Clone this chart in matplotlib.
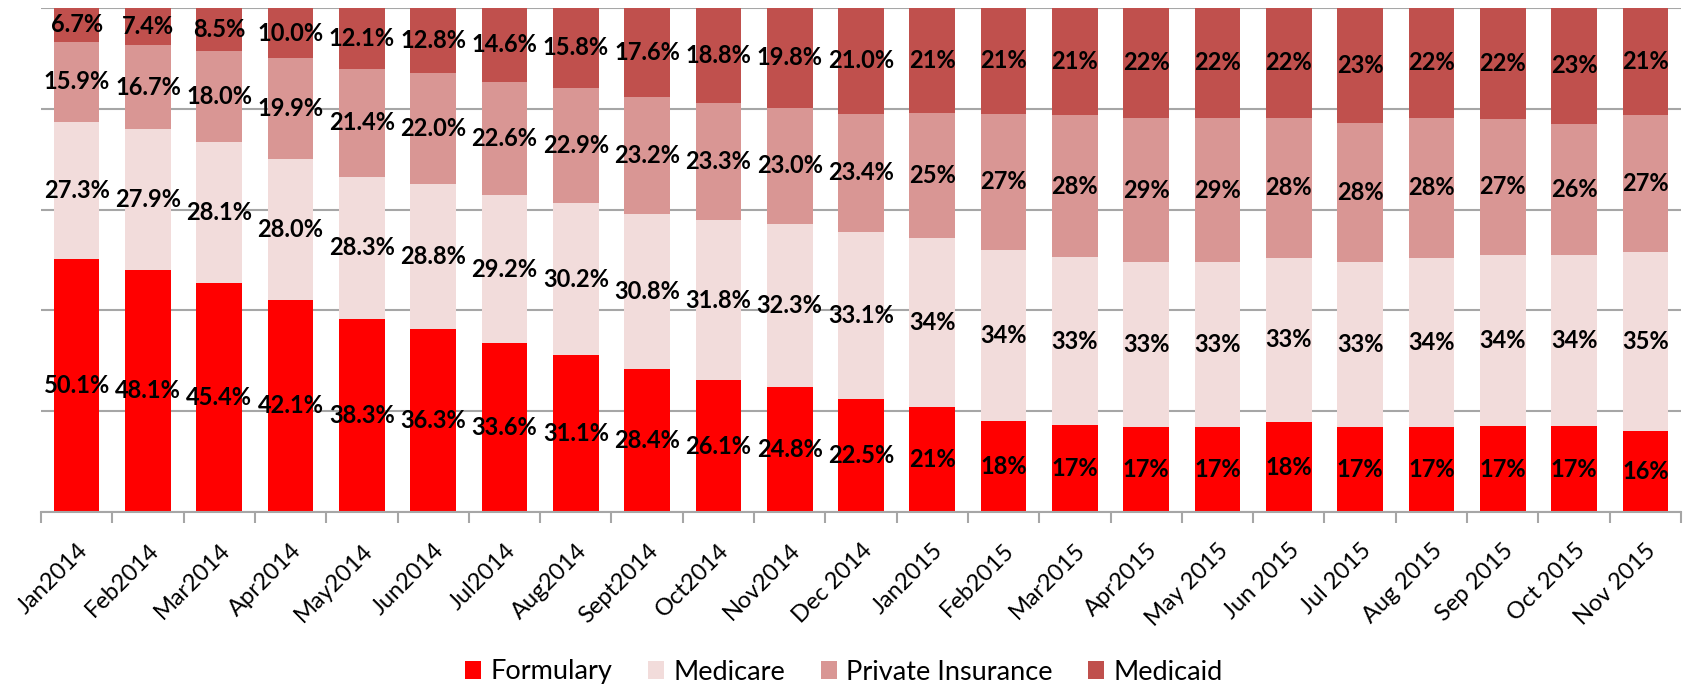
import matplotlib.pyplot as plt
import numpy as np
from matplotlib.patches import Patch
from matplotlib.ticker import FixedLocator, NullFormatter

months = ["Jan2014", "Feb2014", "Mar2014", "Apr2014", "May2014", "Jun2014",
          "Jul2014", "Aug2014", "Sept2014", "Oct2014", "Nov2014", "Dec 2014",
          "Jan2015", "Feb2015", "Mar2015", "Apr2015", "May 2015", "Jun 2015",
          "Jul 2015", "Aug 2015", "Sep 2015", "Oct 2015", "Nov 2015"]

formulary = [50.1, 48.1, 45.4, 42.1, 38.3, 36.3, 33.6, 31.1, 28.4, 26.1, 24.8, 22.5,
             21, 18, 17, 17, 17, 18, 17, 17, 17, 17, 16]
medicare = [27.3, 27.9, 28.1, 28.0, 28.3, 28.8, 29.2, 30.2, 30.8, 31.8, 32.3, 33.1,
            34, 34, 33, 33, 33, 33, 33, 34, 34, 34, 35]
private_ins = [15.9, 16.7, 18.0, 19.9, 21.4, 22.0, 22.6, 22.9, 23.2, 23.3, 23.0, 23.4,
               25, 27, 28, 29, 29, 28, 28, 28, 27, 26, 27]
medicaid = [6.7, 7.4, 8.5, 10.0, 12.1, 12.8, 14.6, 15.8, 17.6, 18.8, 19.8, 21.0,
            21, 21, 21, 22, 22, 22, 23, 22, 22, 23, 21]

series = [("Formulary", formulary, "#FF0000"),
          ("Medicare", medicare, "#F2DCDB"),
          ("Private Insurance", private_ins, "#D99694"),
          ("Medicaid", medicaid, "#C0504D")]

plt.rcParams["font.family"] = ["Lato", "DejaVu Sans"]

fig = plt.figure(figsize=(16.88, 6.88), dpi=100)
ax = fig.add_axes([41 / 1688, 1 - 512 / 688, 1640 / 1688, 504 / 688])

x = np.arange(len(months))
totals = np.sum([np.array(s[1]) for s in series], axis=0)
bottom = np.zeros(len(months))
for name, vals, color in series:
    vals = np.array(vals)
    frac = vals / totals
    ax.bar(x, frac, 0.64, bottom=bottom, color=color, zorder=2)
    for i, v in enumerate(vals):
        # 2014 labels keep one decimal, 2015 ones are whole numbers
        txt = f"{v:.1f}%" if i < 12 else f"{v:.0f}%"
        ax.text(x[i], bottom[i] + frac[i] / 2, txt, ha="center", va="center",
                fontsize=17, fontweight="bold", color="black", zorder=3)
    bottom += frac

ax.set_xlim(-0.5, len(months) - 0.5)
ax.set_ylim(0, 1)
ax.set_yticks(np.arange(0, 1.01, 0.2))
ax.yaxis.set_major_formatter(NullFormatter())
ax.tick_params(axis="y", length=0)
ax.grid(axis="y", color="#A6A6A6", linewidth=1.5, zorder=0)
for s in ["left", "right", "top"]:
    ax.spines[s].set_visible(False)
ax.spines["bottom"].set_color("#A6A6A6")
ax.spines["bottom"].set_linewidth(1.5)
ax.spines["bottom"].set_zorder(4)

ax.set_xticks(x)
ax.set_xticklabels(months, rotation=45, ha="right", rotation_mode="anchor", fontsize=17)
ax.tick_params(axis="x", which="major", length=0, pad=20)
ax.xaxis.set_minor_locator(FixedLocator(np.arange(-0.5, len(months), 1.0)))
ax.tick_params(axis="x", which="minor", length=8, width=1.5, color="#A6A6A6")

handles = [Patch(facecolor=c, edgecolor="none") for _, _, c in series]
fig.legend(handles, [s[0] for s in series], loc="center", ncol=4,
           bbox_to_anchor=(0.5, 1 - 672 / 688), frameon=False, fontsize=19.5,
           handlelength=0.6, handleheight=0.6, handletextpad=0.35, columnspacing=1.3)

fig.savefig("out.png", dpi=100)
